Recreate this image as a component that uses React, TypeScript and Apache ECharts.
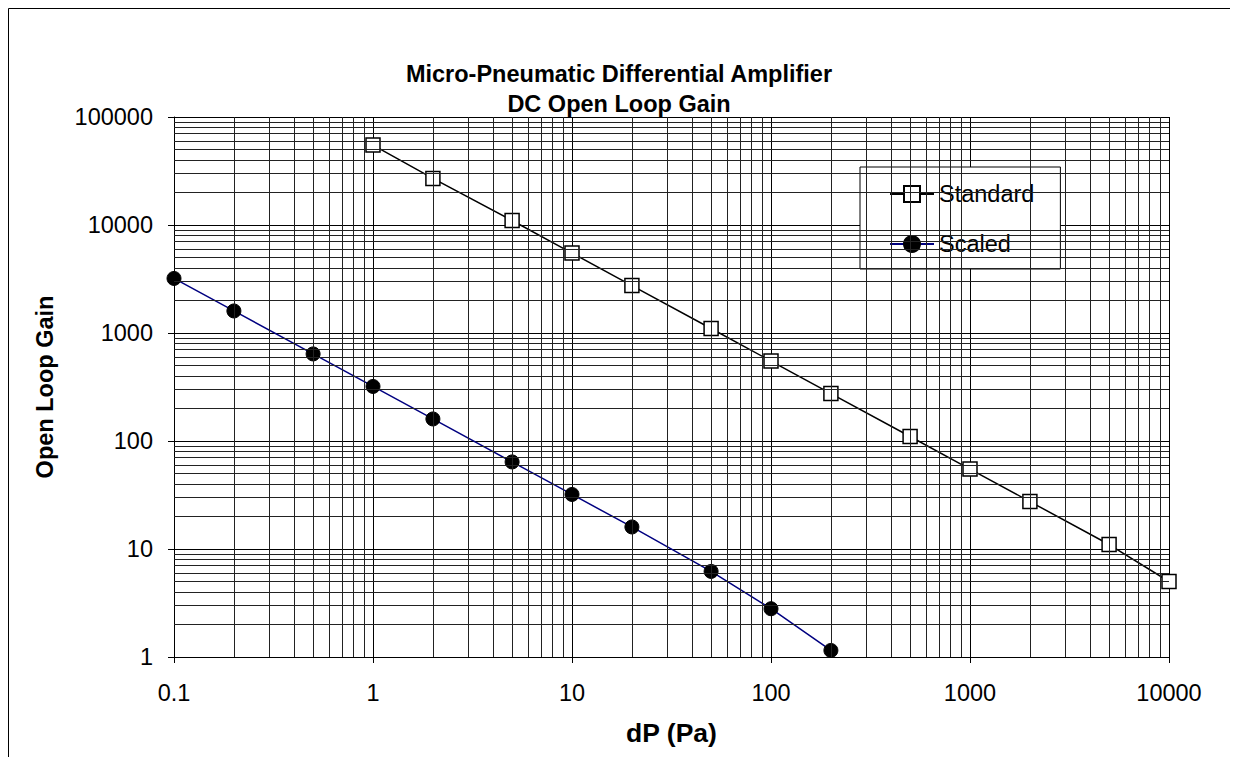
import React, { useEffect, useRef } from "react";
import * as echarts from "echarts";

const titleLines = ["Micro-Pneumatic Differential Amplifier", "DC Open Loop Gain"];
const xName = "dP (Pa)";
const yName = "Open Loop Gain";

const standardX = [1, 2, 5, 10, 20, 50, 100, 200, 500, 1000, 2000, 5000, 10000];
const standardY = [55000, 27000, 11000, 5500, 2750, 1100, 550, 275, 110, 55, 27.5, 11, 5];

const scaledX = [0.1, 0.2, 0.5, 1, 2, 5, 10, 20, 50, 100, 200];
const scaledY = [3200, 1600, 640, 320, 160, 64, 32, 16, 6.2, 2.8, 1.15];

const xDecades = [0.1, 1, 10, 100, 1000];
const yDecades = [1, 10, 100, 1000, 10000];
const minorMultipliers = [2, 3, 4, 5, 6, 7, 8, 9];

const FONT = "'Liberation Sans', Arial, sans-serif";

function fmt(v: number) {
  return String(Number(v.toPrecision(6)));
}

export default function App() {
  const ref = useRef<HTMLDivElement>(null);
  useEffect(() => {
    if (!ref.current) return;
    const chart = echarts.init(ref.current, null, { renderer: "svg" });
    const xMinor: number[] = [];
    xDecades.forEach((d) => minorMultipliers.forEach((m) => xMinor.push(d * m)));
    const yMinor: number[] = [];
    yDecades.forEach((d) => minorMultipliers.forEach((m) => yMinor.push(d * m)));

    chart.setOption({
      animation: false,
      textStyle: { fontFamily: FONT },
      title: {
        text: titleLines.join("\n"),
        left: "center",
        top: 46,
        textStyle: { fontFamily: FONT, fontSize: 23.5, fontWeight: "bold", color: "#000", lineHeight: 30 },
      },
      graphic: [
        {
          type: "rect",
          shape: { x: 0.5, y: 0.5, width: 1300, height: 900 },
          style: { fill: "none", stroke: "#000", lineWidth: 1 },
          silent: true,
        },
      ],
      grid: { left: 166, right: 61, top: 109, bottom: 100 },
      legend: {
        data: ["Standard", "Scaled"],
        orient: "vertical",
        left: 852,
        top: 159,
        backgroundColor: "#fff",
        borderColor: "#000",
        borderWidth: 1,
        padding: [15, 26, 13, 29],
        itemGap: 26,
        itemWidth: 44,
        itemHeight: 20,
        textStyle: { fontFamily: FONT, fontSize: 23.5, color: "#000" },
      },
      xAxis: {
        type: "log",
        logBase: 10,
        min: 0.1,
        max: 10000,
        name: xName,
        nameLocation: "middle",
        nameGap: 62,
        nameTextStyle: { fontFamily: FONT, fontSize: 26.5, fontWeight: "bold", color: "#000" },
        axisLine: { show: true, lineStyle: { color: "#000", width: 1 } },
        axisTick: { show: true, length: 6, lineStyle: { color: "#000" } },
        axisLabel: { margin: 24, fontFamily: FONT, fontSize: 23.5, color: "#000", formatter: fmt },
        splitLine: { show: true, lineStyle: { color: "#000", width: 1 } },
      },
      yAxis: {
        type: "log",
        logBase: 10,
        min: 1,
        max: 100000,
        name: yName,
        nameLocation: "middle",
        nameGap: 117,
        nameRotate: 90,
        nameTextStyle: { fontFamily: FONT, fontSize: 23.5, fontWeight: "bold", color: "#000" },
        axisLine: { show: true, lineStyle: { color: "#000", width: 1 } },
        axisTick: { show: true, length: 6, lineStyle: { color: "#000" } },
        axisLabel: { margin: 21, fontFamily: FONT, fontSize: 23.5, color: "#000", formatter: fmt },
        splitLine: { show: true, lineStyle: { color: "#000", width: 1 } },
      },
      series: [
        {
          name: "minorGrid",
          type: "line",
          data: [],
          z: 1,
          silent: true,
          markLine: {
            silent: true,
            symbol: ["none", "none"],
            label: { show: false },
            lineStyle: { color: "#222", width: 1, type: "solid" },
            emphasis: { disabled: true },
            data: [
              ...xMinor.map((v) => ({ xAxis: v })),
              ...yMinor.map((v) => ({ yAxis: v })),
            ],
          },
        },
        {
          name: "Standard",
          type: "line",
          z: 3,
          data: standardX.map((x, i) => [x, standardY[i]]),
          symbol: "rect",
          symbolSize: 14,
          lineStyle: { color: "#000", width: 1.5 },
          itemStyle: { color: "#fff", borderColor: "#000", borderWidth: 1.5 },
          color: "#000",
        },
        {
          name: "Scaled",
          type: "line",
          z: 3,
          data: scaledX.map((x, i) => [x, scaledY[i]]),
          symbol: "circle",
          symbolSize: 14,
          lineStyle: { color: "#000080", width: 1.5 },
          itemStyle: { color: "#000", borderColor: "#000", borderWidth: 1 },
        },
      ],
    });
    return () => chart.dispose();
  }, []);
  return <div ref={ref} style={{ width: 1222, height: 749 }} />;
}
